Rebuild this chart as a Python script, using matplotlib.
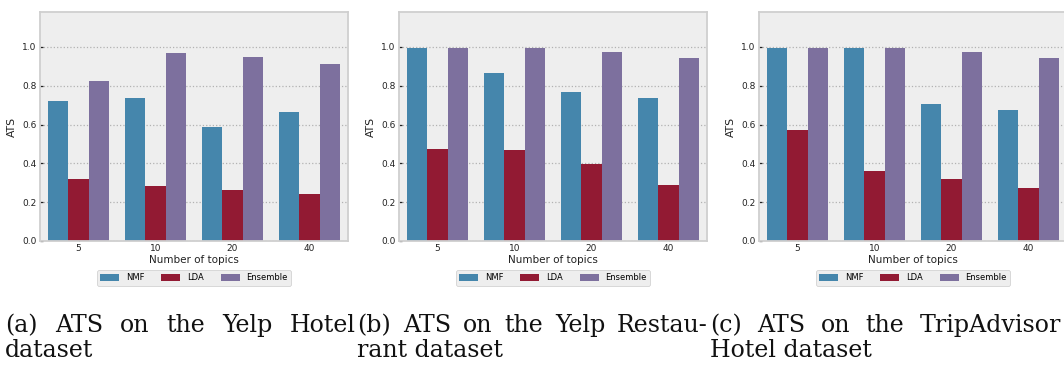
import matplotlib
matplotlib.use('Agg')
import matplotlib.pyplot as plt
import seaborn as sns
import pandas as pd

# data
topics = ['5', '10', '20', '40']
methods = ['NMF', 'LDA', 'Ensemble']

yelp_hotel_nmf = [0.721, 0.736, 0.587, 0.664]
yelp_hotel_lda = [0.320, 0.284, 0.264, 0.243]
yelp_hotel_ens = [0.824, 0.967, 0.947, 0.911]

yelp_rest_nmf = [0.997, 0.865, 0.767, 0.736]
yelp_rest_lda = [0.474, 0.469, 0.397, 0.289]
yelp_rest_ens = [0.997, 0.993, 0.973, 0.942]

trip_hotel_nmf = [0.997, 0.993, 0.705, 0.675]
trip_hotel_lda = [0.572, 0.361, 0.320, 0.274]
trip_hotel_ens = [0.997, 0.993, 0.973, 0.942]

captions = [
    ['(a) ATS on the Yelp Hotel', 'dataset'],
    ['(b) ATS on the Yelp Restau-', 'rant dataset'],
    ['(c) ATS on the TripAdvisor', 'Hotel dataset'],
]

palette = ['#348ABD', '#A60628', '#7A68A6']

plt.style.use('bmh')

W, H = 1064, 369
fig = plt.figure(figsize=(W / 100, H / 100), dpi=100)


def long_frame(nmf, lda, ens):
    rows = []
    for name, vals in zip(methods, [nmf, lda, ens]):
        for t, v in zip(topics, vals):
            rows.append({'topics': t, 'ATS': v, 'method': name})
    return pd.DataFrame(rows)


panels = [
    (40, long_frame(yelp_hotel_nmf, yelp_hotel_lda, yelp_hotel_ens)),
    (399, long_frame(yelp_rest_nmf, yelp_rest_lda, yelp_rest_ens)),
    (759, long_frame(trip_hotel_nmf, trip_hotel_lda, trip_hotel_ens)),
]

ax_w, ax_h = 308, 229
ax_bottom = 241

for left, df in panels:
    ax = fig.add_axes([left / W, (H - ax_bottom) / H, ax_w / W, ax_h / H])
    sns.barplot(data=df, x='topics', y='ATS', hue='method', palette=palette,
                errorbar=None, ax=ax)
    ax.set_ylim(0, 1.18)
    ax.set_xlim(-0.5, 3.5)
    ax.grid(False)
    ax.yaxis.grid(True, linestyle=':', color='#b2b2b2', linewidth=0.9)
    ax.set_axisbelow(True)
    ax.tick_params(axis='both', direction='in', length=2.5, width=0.9,
                   labelsize=6.5, colors='#222222', pad=2.5)
    for s in ax.spines.values():
        s.set_color('#cfcfcf')
        s.set_linewidth(1.3)
    ax.set_xlabel('Number of topics', fontsize=7.5, labelpad=1, color='#222222')
    ax.set_ylabel('ATS', fontsize=7.8, labelpad=4, color='#222222')
    handles, labels = ax.get_legend_handles_labels()
    ax.legend(handles, labels, loc='upper center', bbox_to_anchor=(0.5, -0.108),
              ncol=3, fontsize=6, frameon=True, fancybox=True,
              facecolor='#eeeeee', edgecolor='#cccccc', framealpha=1,
              handlelength=2.3, handleheight=0.9, handletextpad=0.8,
              columnspacing=2.0, borderpad=0.4)

# sub captions, justified like the paper
renderer = fig.canvas.get_renderer()
serif = 'DejaVu Serif'


def text_width(s, size):
    t = fig.text(0, 0, s, fontsize=size, family=serif)
    w = t.get_window_extent(renderer).width
    t.remove()
    return w


col_w = 351
fs = 0.94 * 16 * col_w / text_width(captions[1][0], 16)
col_x = [5, 357, 710]
base1 = H - 332
base2 = H - 357
min_gap = text_width('a a', fs) - text_width('aa', fs)

for x0, (line1, line2) in zip(col_x, captions):
    words = line1.split(' ')
    widths = [text_width(w, fs) for w in words]
    gap = max((col_w - sum(widths)) / (len(words) - 1), min_gap)
    x = x0
    for w, ww in zip(words, widths):
        fig.text(x / W, base1 / H, w, fontsize=fs, family=serif,
                 va='baseline', ha='left', color='#111111')
        x += ww + gap
    fig.text(x0 / W, base2 / H, line2, fontsize=fs, family=serif,
             va='baseline', ha='left', color='#111111')

fig.savefig('out.png', dpi=100, facecolor='white')
